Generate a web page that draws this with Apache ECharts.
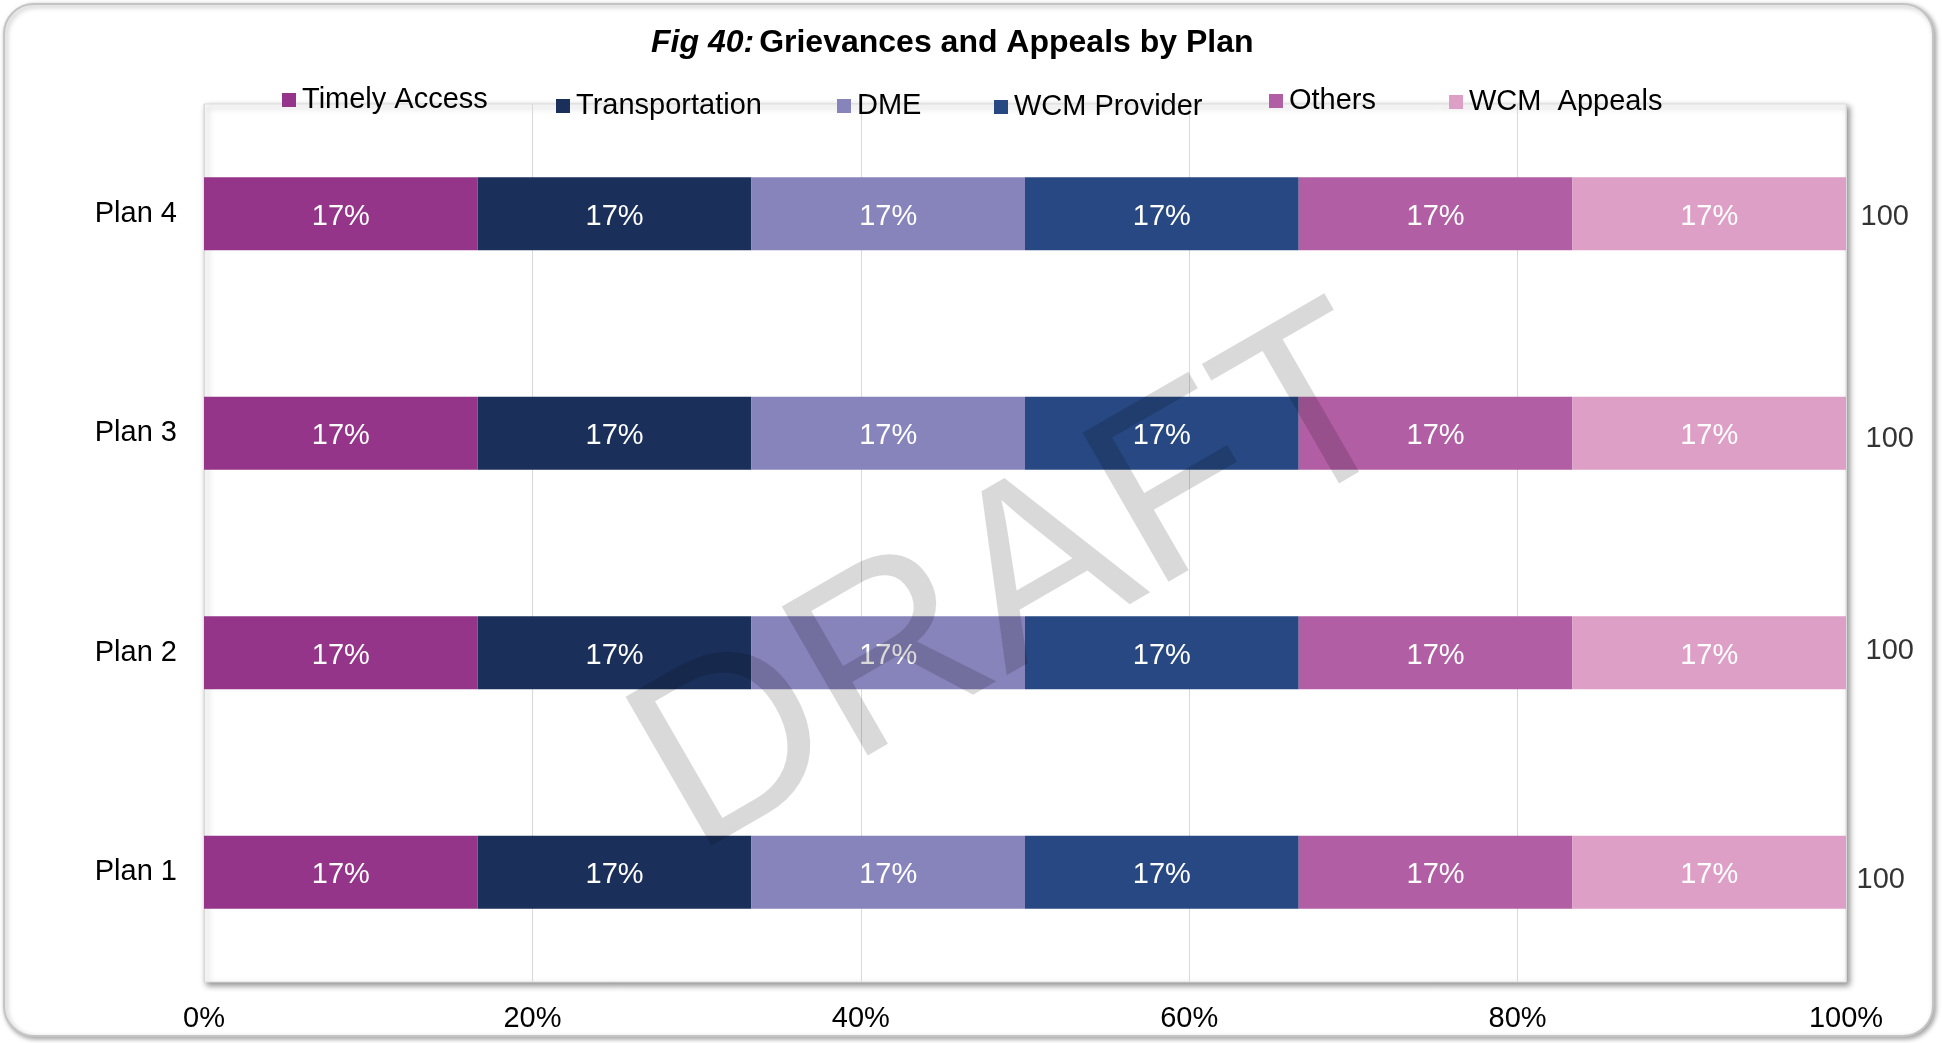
<!DOCTYPE html>
<html>
<head>
<meta charset="utf-8">
<title>Grievances and Appeals by Plan</title>
<script src="https://cdn.jsdelivr.net/npm/echarts@6/dist/echarts.min.js"></script>
<style>
  html, body { margin: 0; padding: 0; background: #ffffff; }
  #chart { width: 1942px; height: 1043px; }
</style>
</head>
<body>
<div id="chart"></div>
<script>
// Plans, listed bottom to top as the category axis draws them
const plans = ['Plan 1', 'Plan 2', 'Plan 3', 'Plan 4'];

// Share of each grievance / appeal type per plan (percent)
const timelyAccess  = [16.67, 16.67, 16.67, 16.67];
const transportation = [16.67, 16.67, 16.67, 16.67];
const dme           = [16.66, 16.66, 16.66, 16.66];
const wcmProvider   = [16.67, 16.67, 16.67, 16.67];
const others        = [16.67, 16.67, 16.67, 16.67];
const wcmAppeals    = [16.66, 16.66, 16.66, 16.66];

// Percent axis ticks
const percentTicks = [0, 20, 40, 60, 80, 100];

const FONT = '"Liberation Sans", Arial, sans-serif';
const FS = 29;

const seriesDefs = [
  { name: 'Timely Access',  values: timelyAccess,   color: '#953589', legendX: 282,  legendY: 100 },
  { name: 'Transportation', values: transportation, color: '#1a2f5a', legendX: 556,  legendY: 106 },
  { name: 'DME',            values: dme,            color: '#8783bb', legendX: 837,  legendY: 106 },
  { name: 'WCM Provider',   values: wcmProvider,    color: '#274882', legendX: 994,  legendY: 107 },
  { name: 'Others',         values: others,         color: '#b25ea4', legendX: 1269, legendY: 101 },
  { name: 'WCM  Appeals',   values: wcmAppeals,     color: '#de9fc7', legendX: 1449, legendY: 102 }
];

// Row totals shown at the right end of each bar
const totals = plans.map((_, i) =>
  Math.round(seriesDefs.reduce((s, d) => s + d.values[i], 0))
);
// small nudges of the total labels, per row (bottom to top)
const totalLabelNudge = [[-4, 8], [5, -2], [5, 6], [0, 3]];

const barSeries = seriesDefs.map(d => ({
  name: d.name,
  type: 'bar',
  stack: 'all',
  barCategoryGap: '66.7%',
  itemStyle: { color: d.color },
  label: {
    show: true,
    position: 'inside',
    offset: [0, 3],
    color: '#ffffff',
    fontFamily: FONT,
    fontSize: FS,
    formatter: p => Math.round(p.value) + '%'
  },
  emphasis: { disabled: true },
  data: d.values
}));

const totalSeries = {
  name: 'Total',
  type: 'scatter',
  symbolSize: 1,
  silent: true,
  itemStyle: { color: 'rgba(0,0,0,0)' },
  z: 5,
  data: totals.map((t, i) => ({
    value: [percentTicks[percentTicks.length - 1], i],
    label: { offset: totalLabelNudge[i] }
  })),
  label: {
    show: true,
    position: 'right',
    distance: 14,
    color: '#000000',
    fontFamily: FONT,
    fontSize: FS,
    formatter: p => String(totals[p.dataIndex])
  }
};

const legends = seriesDefs.map(d => ({
  data: [d.name],
  left: d.legendX,
  top: d.legendY - 15,
  padding: 0,
  itemWidth: 14,
  itemHeight: 14,
  icon: 'rect',
  selectedMode: false,
  textStyle: { fontFamily: FONT, fontSize: FS, color: '#000000', lineHeight: 30, padding: [0, 0, 0, 1] }
}));

const chart = echarts.init(document.getElementById('chart'), null, { renderer: 'canvas' });

chart.setOption({
  backgroundColor: '#ffffff',
  animation: false,
  textStyle: { fontFamily: FONT },
  title: {
    left: 651,
    top: 27,
    padding: 0,
    text: '{i|Fig 40:} {b|Grievances and Appeals by Plan}',
    textStyle: {
      rich: {
        i: { fontFamily: FONT, fontSize: 32, fontWeight: 'bold', fontStyle: 'italic', color: '#000000' },
        b: { fontFamily: FONT, fontSize: 32, fontWeight: 'bold', color: '#000000' }
      }
    }
  },
  legend: legends,
  grid: {
    left: 204,
    right: 96,
    top: 104,
    bottom: 61,
    show: true,
    backgroundColor: '#ffffff',
    borderColor: '#dcdcdc',
    borderWidth: 1,
    shadowColor: 'rgba(0,0,0,0.45)',
    shadowBlur: 6,
    shadowOffsetX: 3,
    shadowOffsetY: 3
  },
  xAxis: {
    type: 'value',
    min: percentTicks[0],
    max: percentTicks[percentTicks.length - 1],
    interval: percentTicks[1] - percentTicks[0],
    axisLine: { show: false },
    axisTick: { show: false },
    splitLine: { show: true, lineStyle: { color: '#d9d9d9', width: 1 } },
    axisLabel: {
      margin: 22,
      color: '#000000',
      fontFamily: FONT,
      fontSize: FS,
      formatter: '{value}%'
    }
  },
  yAxis: {
    type: 'category',
    data: plans,
    axisLine: { show: false },
    axisTick: { show: false },
    axisLabel: {
      margin: 27,
      padding: [13, 0, 0, 0],
      color: '#000000',
      fontFamily: FONT,
      fontSize: FS
    }
  },
  graphic: [
    {
      type: 'rect',
      z: -100,
      silent: true,
      shape: { x: 4, y: 4, width: 1929, height: 1032, r: 30 },
      style: {
        fill: '#ffffff',
        stroke: '#c4c4c4',
        lineWidth: 2,
        shadowColor: 'rgba(0,0,0,0.35)',
        shadowBlur: 5,
        shadowOffsetX: 2,
        shadowOffsetY: 2
      }
    },
    {
      type: 'text',
      z: 100,
      silent: true,
      x: 1020,
      y: 588,
      rotation: 30 * Math.PI / 180,
      style: {
        text: 'DRAFT',
        fontFamily: FONT,
        fontSize: 250,
        fill: 'rgba(0,0,0,0.15)',
        align: 'center',
        verticalAlign: 'middle'
      }
    }
  ],
  series: barSeries.concat([totalSeries])
});
</script>
</body>
</html>
